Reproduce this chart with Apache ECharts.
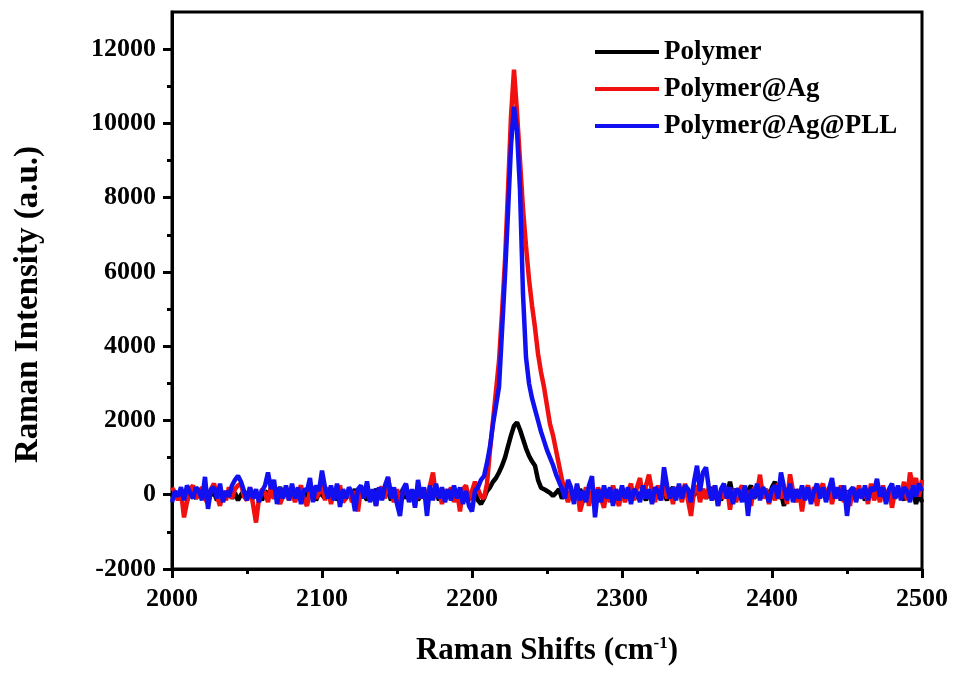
<!DOCTYPE html>
<html>
<head>
<meta charset="utf-8">
<script src="https://cdn.jsdelivr.net/npm/echarts@6/dist/echarts.min.js"></script>
<style>
  html, body { margin: 0; padding: 0; background: #fff; }
  #ramanChart { width: 955px; height: 680px; }
</style>
</head>
<body>
<div id="ramanChart"></div>
<script>

// Raman spectra, sampled every 2 cm-1 from 2000 to 2500 (one row = 20 cm-1)

var shifts = [];
for (var s = 2000; s <= 2500; s += 2) shifts.push(s);

var seriesNames = ['Polymer', 'Polymer@Ag', 'Polymer@Ag@PLL'];

var polymer = [
    0, -100, 50, -50, 100, -150, 50, 0, -100, 100,
    -50, 150, -100, 0, 50, -150, 100, -50, 0, 100,
    -100, 50, -150, 0, 100, -50, 150, -100, 50, 0,
    -150, 100, 0, 150, -100, 50, 200, -50, 100, -100,
    50, -150, 100, 0, -100, 150, -50, 100, -150, 50,
    0, -100, 150, -50, 100, -150, 50, 0, -100, 100,
    -50, 150, -100, 50, 0, -150, 100, -50, 150, 0,
    -100, 50, 100, -150, 0, 100, -50, 150, -100, 50,
    -50, 100, -150, 0, 150, -100, 50, -50, 100, -150,
    0, 100, -50, 150, -100, 50, -150, 0, 100, -50,
    -100, 50, -150, -250, -100, 100, 200, 350, 450, 600,
    780, 1000, 1300, 1600, 1850, 1950, 1750, 1500, 1250, 1050,
    900, 780, 400, 190, 150, 100, 50, -30, 50, 150,
    -100, 50, -150, 100, 0, -100, 150, -50, 100, -150,
    50, -100, 150, 0, -150, 100, -50, 200, -100, 50,
    0, -150, 100, -50, 150, -100, 50, 0, -150, 100,
    -50, 150, -100, 50, 0, -150, 100, 200, -50, 100,
    -100, 50, 150, -150, 0, 100, -50, 150, -100, 50,
    200, -100, 50, -150, 100, 0, 350, -50, 150, -100,
    50, -150, 100, 250, -100, 50, 400, -50, 150, -100,
    200, 350, -100, 50, -300, 150, -50, 100, -150, 50,
    0, -100, 150, -50, 100, -150, 50, 200, -100, 0,
    150, -50, 100, -150, 0, 100, -100, 50, 150, -50,
    100, -150, 50, 0, 200, -100, 150, -50, 100, -150,
    50, -100, 150, 0, -150, 200, -50, 100, -250, 50,
    -200
];

var polymerAg = [
    190, 60, -150, 100, -610, -200, 150, 250, -100, 50,
    200, -100, -250, 150, 300, -50, -300, 100, -150, 200,
    -100, 150, 250, 300, -50, -150, 200, -250, -750, -100,
    150, 50, -200, 250, -100, 100, -250, -50, 200, -150,
    100, -200, 50, 250, -150, -300, 100, 200, -100, 50,
    300, -150, 200, -250, 100, -50, 250, -200, -100, 150,
    -200, 100, -450, 200, -50, 250, -150, 100, -300, 150,
    200, -100, 450, 50, -200, 150, -250, 100, 250, -150,
    100, -300, 200, -100, 150, -200, 250, 600, -50, 100,
    -250, 150, -100, 200, -200, 100, -450, 150, 250, -150,
    100, 350, 150, -50, -100, 300, 1200, 2000, 2800, 3600,
    4900, 6300, 8200, 10200, 11450, 10300, 9000, 7700, 6700, 5800,
    5100, 4500, 3800, 3300, 2900, 2400, 1900, 1600, 1200, 800,
    400, 100, -200, 150, -100, 250, -450, -150, 200, -300,
    100, -250, 200, -100, -350, 150, -200, 250, -100, -300,
    150, -200, 100, 300, -150, 200, 450, -100, 250, 540,
    100, -200, 250, -150, 300, -100, 150, -250, 200, 100,
    -200, 300, -150, -570, 100, 250, -200, 150, -100, 200,
    -150, 250, -300, 100, -100, 200, -400, 150, -200, 100,
    250, -150, 100, -300, 200, 50, 540, -100, 150, -250,
    100, -150, 300, -100, 200, -250, 550, 100, -200, 150,
    -450, 100, 250, -150, 200, -300, 150, 300, -100, 200,
    -250, 150, -100, 250, -200, 100, -300, 200, -150, 250,
    -100, 150, -250, 300, -150, 100, -200, 250, -100, 150,
    -350, 100, 200, -100, 350, -150, 600, 250, 450, -50,
    400
];

var polymerAgPLL = [
    -200, 100, -50, 200, -150, 250, 50, -100, 200, 100,
    -150, 480, -380, 150, 200, -100, 300, -200, 100, -50,
    250, 400, 510, 350, 100, -150, 200, -100, 150, -200,
    100, 250, 600, 150, 400, -250, 200, -100, 250, -150,
    300, -100, 200, -250, 150, 100, 450, -200, 250, 100,
    650, 200, -100, 250, -150, 300, -330, 150, -100, 200,
    50, -440, 150, 250, -100, 360, -200, 150, -300, 200,
    -150, 250, 480, -100, 200, -250, -570, 150, 300, -200,
    150, -350, 400, -100, 200, -570, 250, -150, 300, -100,
    200, -200, 150, -150, 250, -100, 200, -250, 100, -300,
    -450, 100, 200, 400, 500, 860, 1300, 1900, 2400, 2900,
    4400, 5900, 7600, 9400, 10450, 9800, 8200, 5400, 3700, 3000,
    2600, 2300, 2000, 1700, 1450, 1200, 1000, 800, 550, 350,
    150, -100, 400, 200, -250, 300, -150, 100, -200, 250,
    500, -610, 150, -200, 250, -100, 200, -300, 150, -150,
    250, -100, 200, -250, 150, 50, -200, 250, -100, 150,
    -250, 200, 100, -150, 740, 250, -100, 200, -150, 300,
    -100, 250, 150, -200, 350, 780, 100, 600, 740, 150,
    -150, 250, -300, 150, 300, -100, 200, -250, 150, 100,
    -200, 250, -570, 150, -100, 300, -150, 200, 50, -200,
    150, 250, -100, 600, 200, -150, 300, -200, 150, -100,
    250, -150, 200, -250, 100, 300, -100, 200, -200, 150,
    450, -100, 200, -150, 250, -570, 100, 200, -200, 150,
    -100, 250, -150, 200, 100, 430, -50, 200, -250, 150,
    300, -100, 250, -150, 200, 100, -200, 250, -50, 300,
    100
];

var yTicks = [-2000, 0, 2000, 4000, 6000, 8000, 10000, 12000];

var colors = ['#000000', '#f01010', '#1010f0'];

function pairs(ys) {
    return shifts.map(function (x, i) { return [x, ys[i]]; });
}

var font = 'Liberation Serif';

var chart = echarts.init(document.getElementById('ramanChart'));

var option = {
    animation: false,
    backgroundColor: '#fff',
    color: colors,
    grid: {
        left: 172,
        right: 33,
        top: 12,
        bottom: 111,
        show: true,
        borderColor: '#000',
        borderWidth: 3
    },
    legend: {
        orient: 'vertical',
        left: 590,
        top: 33,
        itemWidth: 64,
        itemHeight: 4,
        itemGap: 9,
        icon: 'rect',
        textStyle: {
            fontFamily: font,
            fontWeight: 'bold',
            fontSize: 27,
            color: '#000',
            lineHeight: 28
        },
        data: seriesNames
    },
    xAxis: {
        type: 'value',
        min: 2000,
        max: 2500,
        interval: 100,
        name: 'Raman Shifts (cm{sup|-1})',
        nameLocation: 'middle',
        nameGap: 66,
        nameTextStyle: {
            fontFamily: font,
            fontWeight: 'bold',
            fontSize: 31,
            color: '#000',
            rich: {
                sup: {
                    fontFamily: font,
                    fontWeight: 'bold',
                    fontSize: 17,
                    verticalAlign: 'bottom',
                    padding: [0, 0, 14, 0]
                }
            }
        },
        axisLine: { onZero: false, lineStyle: { color: '#000', width: 3 } },
        axisTick: { show: true, inside: false, length: 9, lineStyle: { color: '#000', width: 3 } },
        minorTick: { show: true, splitNumber: 2, length: 5, lineStyle: { color: '#000', width: 3 } },
        splitLine: { show: false },
        axisLabel: {
            margin: 17,
            fontFamily: font,
            fontWeight: 'bold',
            fontSize: 26,
            color: '#000',
            formatter: function (v) { return String(v); }
        }
    },
    yAxis: {
        type: 'value',
        min: -2000,
        max: 13000,
        interval: 2000,
        name: 'Raman Intensity (a.u.)',
        nameLocation: 'middle',
        nameGap: 127,
        nameTextStyle: {
            fontFamily: font,
            fontWeight: 'bold',
            fontSize: 33,
            color: '#000',
            padding: [0, 28, 0, 0]
        },
        axisLine: { onZero: false, lineStyle: { color: '#000', width: 3 } },
        axisTick: { show: true, inside: false, length: 9, lineStyle: { color: '#000', width: 3 }, customValues: yTicks },
        minorTick: { show: true, splitNumber: 2, length: 5, lineStyle: { color: '#000', width: 3 } },
        splitLine: { show: false },
        axisLabel: {
            margin: 16,
            fontFamily: font,
            fontWeight: 'bold',
            fontSize: 26,
            color: '#000',
            customValues: yTicks,
            formatter: function (v) { return String(v); }
        }
    },
    series: [
        { name: seriesNames[0], type: 'line', data: pairs(polymer), showSymbol: false, lineStyle: { width: 4.5 }, z: 2 },
        { name: seriesNames[1], type: 'line', data: pairs(polymerAg), showSymbol: false, lineStyle: { width: 4.5 }, z: 3 },
        { name: seriesNames[2], type: 'line', data: pairs(polymerAgPLL), showSymbol: false, lineStyle: { width: 4.5 }, z: 4 }
    ]
};

chart.setOption(option);

window.addEventListener('resize', function () {
    chart.resize();
});

</script>
</body>
</html>
